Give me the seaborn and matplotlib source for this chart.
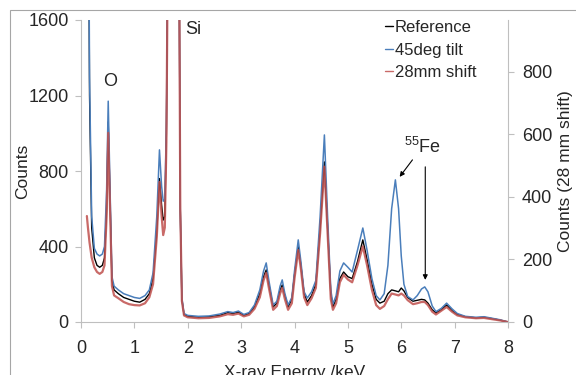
import numpy as np
import matplotlib
matplotlib.use("Agg")
import matplotlib.pyplot as plt
import seaborn as sns

nan = np.nan

# X-ray energy (keV)
energy = [0.11, 0.13, 0.16, 0.20, 0.25, 0.30, 0.35, 0.40, 0.44, 0.48, 0.51, 0.54, 0.58, 0.62,
          0.70, 0.80, 0.90, 1.00, 1.10, 1.20, 1.28, 1.35, 1.42, 1.47, 1.51, 1.54, 1.57, 1.60,
          1.64, 1.73, 1.83, 1.86, 1.89, 1.93, 2.00, 2.20, 2.40, 2.60, 2.75, 2.85, 2.95, 3.05,
          3.15, 3.25, 3.35, 3.42, 3.47, 3.52, 3.60, 3.67, 3.73, 3.77, 3.82, 3.88, 3.95, 4.00,
          4.07, 4.12, 4.18, 4.24, 4.32, 4.40, 4.48, 4.56, 4.62, 4.68, 4.72, 4.78, 4.85, 4.92,
          5.00, 5.08, 5.18, 5.28, 5.36, 5.45, 5.53, 5.60, 5.68, 5.75, 5.82, 5.89, 5.95, 6.00,
          6.05, 6.12, 6.22, 6.30, 6.38, 6.44, 6.50, 6.58, 6.65, 6.75, 6.85, 6.95, 7.05, 7.20,
          7.40, 7.55, 7.70, 7.85, 8.00]

# counts, left axis
reference = [nan, 3000, 1200, 500, 340, 300, 290, 300, 340, 600, 1060, 700, 220, 170,
             150, 130, 120, 110, 105, 120, 150, 230, 480, 760, 620, 540, 560, 1000,
             2500, 6000, 2500, 600, 120, 40, 30, 25, 28, 35, 50, 45, 52, 35,
             45, 80, 150, 240, 276, 200, 80, 100, 170, 196, 140, 80, 120, 250,
             400, 300, 150, 106, 140, 200, 500, 848, 500, 150, 80, 120, 230, 265,
             240, 230, 320, 435, 330, 200, 120, 100, 110, 150, 170, 165, 160, 180,
             165, 130, 110, 115, 120, 117, 100, 65, 48, 65, 90, 60, 40, 28,
             22, 25, 18, 10, 0]

tilt_45deg = [nan, 3000, 1300, 560, 390, 360, 350, 360, 400, 700, 1170, 760, 240, 190,
              170, 150, 140, 130, 125, 140, 170, 260, 560, 912, 720, 640, 650, 1050,
              2500, 6000, 2500, 600, 130, 45, 35, 30, 32, 42, 55, 50, 58, 40,
              50, 90, 170, 270, 313, 220, 90, 110, 190, 223, 150, 90, 130, 270,
              435, 320, 160, 127, 160, 220, 560, 991, 560, 170, 95, 140, 270, 313,
              290, 265, 380, 498, 380, 230, 140, 117, 150, 300, 600, 753, 600, 350,
              200, 135, 117, 140, 175, 186, 160, 85, 55, 72, 100, 70, 45, 30,
              25, 28, 20, 12, 0]

# counts, right axis (28 mm shift)
shift_28mm = [339, 302, 254, 206, 175, 160, 154, 160, 181, 339, 605, 393, 115, 85,
              76, 64, 57, 54, 53, 60, 79, 121, 272, 448, 339, 278, 302, 575,
              1512, 3630, 1512, 363, 67, 21, 15, 12, 13, 18, 25, 23, 27, 18,
              23, 42, 79, 133, 157, 109, 39, 51, 91, 109, 73, 39, 60, 139,
              230, 169, 79, 54, 76, 109, 284, 497, 284, 73, 39, 60, 127, 151,
              136, 127, 181, 242, 181, 103, 54, 42, 51, 73, 91, 88, 85, 91,
              85, 70, 57, 60, 64, 64, 54, 33, 24, 36, 48, 33, 21, 15,
              12, 13, 9, 5, 0]

x_ticks = [0, 1, 2, 3, 4, 5, 6, 7, 8]
left_ticks = [0, 400, 800, 1200, 1600]
right_ticks = [0, 200, 400, 600, 800]

sns.set_style("white")
plt.rcParams["font.family"] = ["Liberation Sans", "DejaVu Sans"]
plt.rcParams["mathtext.fontset"] = "custom"
plt.rcParams["mathtext.rm"] = "Liberation Sans"

fig = plt.figure(figsize=(5.76, 3.75), dpi=100)
ax = fig.add_axes([81 / 576, 1 - 322 / 375, 427 / 576, 302 / 375])
ax2 = ax.twinx()

# chart border (runs off the right and bottom edges)
fig.patches.append(plt.Rectangle((10 / 576, -0.2), 1.2, 1.2 - 10 / 375,
                                 transform=fig.transFigure, fill=False,
                                 edgecolor="#a6a6a6", linewidth=0.8))

black = "#000000"
blue = "#4a7ebb"
red = "#c0504d"

sns.lineplot(x=energy, y=reference, ax=ax, color=black, linewidth=1.0,
             estimator=None, sort=False, label="Reference", legend=False)
sns.lineplot(x=energy, y=tilt_45deg, ax=ax, color=blue, linewidth=1.1,
             estimator=None, sort=False, label="45deg tilt", legend=False)
sns.lineplot(x=energy, y=shift_28mm, ax=ax2, color=red, linewidth=1.6, alpha=0.85,
             estimator=None, sort=False, label="28mm shift", legend=False)

ax.set_xlim(0, 8)
ax.set_ylim(0, 1600)
ax2.set_ylim(0, 966)
ax.set_xticks(x_ticks)
ax.set_yticks(left_ticks)
ax2.set_yticks(right_ticks)

spine_col = "#bfbfbf"
for a in (ax, ax2):
    for s in a.spines.values():
        s.set_color(spine_col)
        s.set_linewidth(0.8)
    a.spines["top"].set_visible(False)
ax.spines["right"].set_visible(False)
ax2.spines["left"].set_visible(False)
ax2.spines["bottom"].set_visible(False)

ax.tick_params(axis="x", direction="out", length=4, width=0.8, color=spine_col,
               labelsize=13, pad=9, bottom=True)
ax.tick_params(axis="y", direction="out", length=4, width=0.8, color=spine_col,
               labelsize=13, pad=5, left=True)
ax2.tick_params(axis="y", direction="out", length=4, width=0.8, color=spine_col,
                labelsize=13, pad=6, right=True)

ax.set_xlabel("X-ray Energy /keV", fontsize=12.5)
ax.xaxis.set_label_coords(0.5, -0.142)
ax.set_ylabel("Counts", fontsize=12.5)
ax.yaxis.set_label_coords(-0.119, 0.5)
ax2.set_ylabel("Counts (28 mm shift)", fontsize=12.5)
ax2.yaxis.set_label_coords(1.118, 0.5)

ax.text(0.54, 1272, "O", fontsize=13, ha="center", va="center")
ax.text(1.95, 1548, "Si", fontsize=13, ha="left", va="center")
ax.text(6.06, 928, "$^{55}$Fe", fontsize=13, ha="left", va="center")
ax.annotate("", xy=(5.97, 769), xytext=(6.21, 859),
            arrowprops=dict(arrowstyle="-|>", color="#000000", lw=0.8,
                            mutation_scale=7, shrinkA=0, shrinkB=0))
ax.annotate("", xy=(6.45, 223), xytext=(6.45, 822),
            arrowprops=dict(arrowstyle="-|>", color="#000000", lw=0.8,
                            mutation_scale=7, shrinkA=0, shrinkB=0))

h1, l1 = ax.get_legend_handles_labels()
h2, l2 = ax2.get_legend_handles_labels()
leg = ax2.legend(h1 + h2, l1 + l2, loc="upper left",
                 bbox_to_anchor=(385 / 576, 1 - 20 / 375), bbox_transform=fig.transFigure,
                 frameon=False, fontsize=12, handlelength=0.5, handletextpad=0.1,
                 labelspacing=0.45, borderaxespad=0, borderpad=0)
for line in leg.get_lines():
    line.set_linewidth(1.0)

fig.savefig("out.png", dpi=100)
